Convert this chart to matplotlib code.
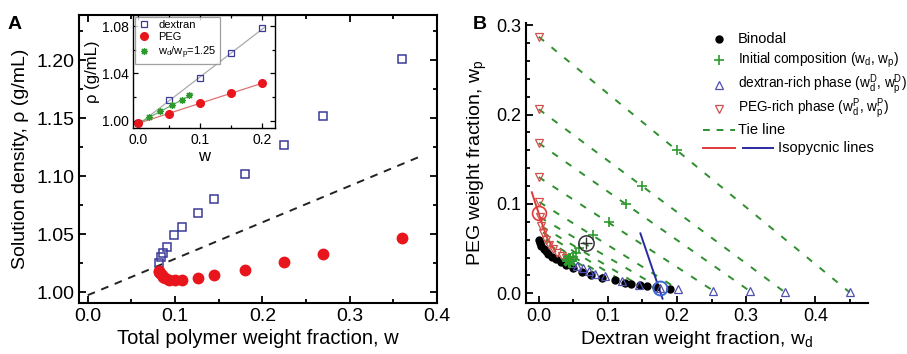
import matplotlib
matplotlib.use('Agg')
import matplotlib.pyplot as plt
from matplotlib.ticker import MultipleLocator

plt.rcParams.update({
    'font.family': ['Liberation Sans', 'DejaVu Sans'],
    'mathtext.default': 'regular',
    'axes.linewidth': 1.5,
    'xtick.direction': 'in',
    'ytick.direction': 'in',
})

# ---- panel A: solution density vs total polymer weight fraction ----
dex_w = [0.0819, 0.0838, 0.0866, 0.0904, 0.0991, 0.1083, 0.126, 0.1443,
         0.180, 0.2247, 0.269, 0.3596]
dex_rho = [1.0255, 1.030, 1.034, 1.0387, 1.0493, 1.056, 1.068, 1.080,
           1.102, 1.127, 1.1518, 1.2006]
peg_w = [0.0812, 0.0819, 0.0830, 0.0845, 0.0865, 0.0885, 0.0933, 0.0998,
         0.1074, 0.126, 0.1443, 0.180, 0.2247, 0.269, 0.3596]
peg_rho = [1.0186, 1.0177, 1.0163, 1.0149, 1.0133, 1.012, 1.0106, 1.0104,
           1.0106, 1.0126, 1.0146, 1.0194, 1.0258, 1.0327, 1.047]
ref_w = [0.0, 0.38]
ref_rho = [0.9975, 1.1167]

# inset: calibration at low w
ins_w = [0.0, 0.05, 0.10, 0.15, 0.20]
ins_dex = [0.998, 1.0175, 1.0366, 1.057, 1.0783]
ins_peg = [0.998, 1.0062, 1.015, 1.0235, 1.0323]
mix_w = [0.018, 0.0356, 0.0536, 0.070, 0.082]
mix_rho = [1.0033, 1.0087, 1.0135, 1.0178, 1.0216]
fit_w = [0.0, 0.205]
fit_dex = [0.997, 1.0795]
fit_peg = [0.998, 1.0327]
fit_mix_w = [0.0, 0.088]
fit_mix = [0.998, 1.0228]

# ---- panel B: phase diagram ----
bin_wd = [0.000, 0.002, 0.004, 0.007, 0.010, 0.014, 0.019, 0.025, 0.032, 0.040,
          0.050, 0.062, 0.076, 0.092, 0.110, 0.125, 0.134, 0.146, 0.157, 0.170, 0.190]
bin_wp = [0.060, 0.056, 0.053, 0.050, 0.047, 0.044, 0.041, 0.038, 0.035, 0.032,
          0.028, 0.024, 0.020, 0.017, 0.0149, 0.012, 0.0104, 0.009, 0.0082, 0.0065, 0.0045]
init_wd = [0.1993, 0.1496, 0.1256, 0.102, 0.0789, 0.0587, 0.0539, 0.049]
init_wp = [0.160, 0.1204, 0.0999, 0.080, 0.0652, 0.0503, 0.0455, 0.041]
dr_wd = [0.4495, 0.356, 0.306, 0.252, 0.2016, 0.175, 0.145, 0.12, 0.096, 0.082]
dr_wp = [0.001, 0.001, 0.002, 0.003, 0.0045, 0.006, 0.009, 0.014, 0.019, 0.022]
pr_wd = [0.0, 0.0, 0.0, 0.0, 0.001, 0.002, 0.004, 0.006, 0.010, 0.015]
pr_wp = [0.287, 0.206, 0.168, 0.130, 0.102, 0.085, 0.075, 0.068, 0.060, 0.054]
extra_dr_wd = [0.048, 0.056, 0.064, 0.072]
extra_dr_wp = [0.034, 0.031, 0.028, 0.025]
extra_pr_wd = [0.020, 0.026, 0.033, 0.040]
extra_pr_wp = [0.049, 0.045, 0.042, 0.039]
iso_red_wd = [-0.010, 0.004, 0.012, 0.024]
iso_red_wp = [0.113, 0.080, 0.062, 0.047]
iso_blue_wd = [0.147, 0.179]
iso_blue_wp = [0.067, -0.006]
crit_wd, crit_wp = 0.0688, 0.0566
isoP_wd, isoP_wp = 0.0, 0.090
isoD_wd, isoD_wp = 0.175, 0.0056
star_wd, star_wp = 0.0442, 0.0372

legend_labels = ['Binodal', 'Initial composition (w$_d$, w$_p$)',
                 'dextran-rich phase (w$_d^D$, w$_p^D$)',
                 'PEG-rich phase (w$_d^P$, w$_p^P$)', 'Tie line', 'Isopycnic lines']

C_BLUE = '#3a3a9a'
C_RED = '#e8161c'
C_GREEN = '#2e9a2e'
C_TIE = '#2f8f2f'
C_PR = '#d0504a'
C_DR = '#5050b0'
C_ISO_R = '#e03a3a'
C_ISO_B = '#2a2aa0'

fig = plt.figure(figsize=(9.07, 3.54), dpi=100)

# ===== Panel A =====
ax = fig.add_axes([0.0871, 0.1441, 0.3947, 0.8136])
ax.plot(ref_w, ref_rho, '--', color='#222222', lw=1.4, dashes=(4, 3.5))
ax.plot(dex_w, dex_rho, 's', ms=6, mfc='none', mec=C_BLUE, mew=1.1, ls='none')
ax.plot(peg_w, peg_rho, 'o', ms=7.5, color=C_RED, ls='none')
ax.set_xlim(-0.01, 0.4)
ax.set_ylim(0.9908, 1.2388)
ax.xaxis.set_major_locator(MultipleLocator(0.1))
ax.xaxis.set_minor_locator(MultipleLocator(0.05))
ax.yaxis.set_major_locator(MultipleLocator(0.05))
ax.yaxis.set_minor_locator(MultipleLocator(0.025))
ax.xaxis.set_major_formatter(plt.FuncFormatter(lambda v, p: f'{v:.1f}'))
ax.yaxis.set_major_formatter(plt.FuncFormatter(lambda v, p: f'{v:.2f}'))
ax.tick_params(which='both', top=True, right=True, width=1.3)
ax.tick_params(which='major', length=5, labelsize=14)
ax.tick_params(which='minor', length=3)
ax.set_xlabel('Total polymer weight fraction, w', fontsize=14.5, labelpad=3)
ax.set_ylabel('Solution density, ρ (g/mL)', fontsize=14, labelpad=5)
fig.text(0.008, 0.955, 'A', fontsize=14, fontweight='bold', va='top')

# inset
ins = fig.add_axes([0.147, 0.6376, 0.1566, 0.320])
ins.plot(fit_w, fit_dex, '-', color='#aaaaaa', lw=0.9)
ins.plot(fit_w, fit_peg, '-', color='#e07070', lw=0.9)
ins.plot(fit_mix_w, fit_mix, '-', color='#70b070', lw=0.9)
ins.plot(ins_w, ins_dex, 's', ms=5, mfc='none', mec=C_BLUE, mew=0.9, ls='none', label='dextran')
ins.plot(ins_w, ins_peg, 'o', ms=5.5, color=C_RED, ls='none', label='PEG')
ins.plot(mix_w, mix_rho, marker=(8, 2, 0), ms=5, color=C_GREEN, mew=0.9, ls='none',
         label='w$_d$/w$_p$=1.25')
ins.set_xlim(-0.008, 0.221)
ins.set_ylim(0.9938, 1.0893)
ins.xaxis.set_major_locator(MultipleLocator(0.1))
ins.xaxis.set_minor_locator(MultipleLocator(0.05))
ins.yaxis.set_major_locator(MultipleLocator(0.04))
ins.yaxis.set_minor_locator(MultipleLocator(0.02))
ins.xaxis.set_major_formatter(plt.FuncFormatter(lambda v, p: f'{v:.1f}'))
ins.yaxis.set_major_formatter(plt.FuncFormatter(lambda v, p: f'{v:.2f}'))
for s in ins.spines.values():
    s.set_linewidth(1.0)
ins.tick_params(which='both', top=True, right=True, width=0.9, labelsize=10)
ins.tick_params(which='major', length=3.5)
ins.tick_params(which='minor', length=2)
ins.set_xlabel('w', fontsize=12, labelpad=1)
ins.set_ylabel('ρ (g/mL)', fontsize=12, labelpad=1)
leg = ins.legend(loc='upper left', fontsize=8, frameon=True, fancybox=False,
                 edgecolor='#888888', handlelength=1.0, handletextpad=0.8,
                 borderpad=0.3, labelspacing=0.2, borderaxespad=0.15)
leg.get_frame().set_linewidth(0.9)

# ===== Panel B =====
bx = fig.add_axes([0.580, 0.145, 0.377, 0.789])
for i in range(len(dr_wd)):
    bx.plot([pr_wd[i], dr_wd[i]], [pr_wp[i], dr_wp[i]], color=C_TIE, lw=1.4,
            dashes=(3.5, 5))
bx.plot(iso_red_wd, iso_red_wp, '-', color=C_ISO_R, lw=1.4)
bx.plot(iso_blue_wd, iso_blue_wp, '-', color=C_ISO_B, lw=1.4)
bx.plot(bin_wd, bin_wp, 'o', ms=5, color='black', ls='none')
bx.plot(pr_wd + extra_pr_wd, pr_wp + extra_pr_wp, 'v', ms=6, mfc='none',
        mec=C_PR, mew=0.9, ls='none')
bx.plot(dr_wd + extra_dr_wd, dr_wp + extra_dr_wp, '^', ms=6, mfc='none',
        mec=C_DR, mew=0.9, ls='none')
bx.plot(init_wd, init_wp, '+', ms=7, color=C_GREEN, mew=1.2, ls='none')
bx.plot([star_wd], [star_wp], marker=(8, 2, 0), ms=10, color=C_GREEN, mew=2.2)
bx.plot([crit_wd], [crit_wp], 'o', ms=11, mfc='none', mec='#333333', mew=1.1)
bx.plot([crit_wd], [crit_wp], '+', ms=8, color='#333333', mew=1.0)
bx.plot([isoP_wd], [isoP_wp], 'o', ms=10, mfc='none', mec=C_ISO_R, mew=1.2)
bx.plot([isoD_wd], [isoD_wp], 'o', ms=10, mfc='none', mec='#3a6ad0', mew=1.4)
bx.set_xlim(-0.0183, 0.476)
bx.set_ylim(-0.0105, 0.302)
bx.spines['top'].set_visible(False)
bx.spines['right'].set_visible(False)
bx.xaxis.set_major_locator(MultipleLocator(0.1))
bx.xaxis.set_minor_locator(MultipleLocator(0.05))
bx.yaxis.set_major_locator(MultipleLocator(0.1))
bx.yaxis.set_minor_locator(MultipleLocator(0.02))
bx.xaxis.set_major_formatter(plt.FuncFormatter(lambda v, p: f'{v:.1f}'))
bx.yaxis.set_major_formatter(plt.FuncFormatter(lambda v, p: f'{v:.1f}'))
bx.tick_params(which='both', width=1.3)
bx.tick_params(which='major', length=5, labelsize=13)
bx.tick_params(which='minor', length=3)
bx.set_xlabel('Dextran weight fraction, w$_d$', fontsize=14, labelpad=3)
bx.set_ylabel('PEG weight fraction, w$_p$', fontsize=14, labelpad=5)
fig.text(0.521, 0.955, 'B', fontsize=14, fontweight='bold', va='top')

# legend drawn row by row (axes fraction), to match the original layout
row_y = [0.944, 0.869, 0.779, 0.693, 0.618, 0.553]
hx0, hx1, tx = 0.518, 0.611, 0.620
hc = 0.5 * (hx0 + hx1)
kw = dict(transform=bx.transAxes, clip_on=False)
bx.plot([hc], [row_y[0]], 'o', ms=5, color='black', **kw)
bx.plot([hc], [row_y[1]], '+', ms=7, color=C_GREEN, mew=1.2, **kw)
bx.plot([hc], [row_y[2]], '^', ms=6, mfc='none', mec=C_DR, mew=0.9, **kw)
bx.plot([hc], [row_y[3]], 'v', ms=6, mfc='none', mec=C_PR, mew=0.9, **kw)
bx.plot([hx0, hx1], [row_y[4]] * 2, color=C_TIE, lw=1.4, dashes=(3.5, 3.5), **kw)
bx.plot([hx0, hx1], [row_y[5]] * 2, color=C_ISO_R, lw=1.4, **kw)
bx.plot([0.635, 0.723], [row_y[5]] * 2, color=C_ISO_B, lw=1.4, **kw)
for k, lab in enumerate(legend_labels):
    x = 0.737 if k == 5 else tx
    bx.text(x, row_y[k], lab, transform=bx.transAxes,
            fontsize=10.5 if k in (0, 4, 5) else 9.8, va='center', ha='left')

fig.savefig('out.png', dpi=100)
